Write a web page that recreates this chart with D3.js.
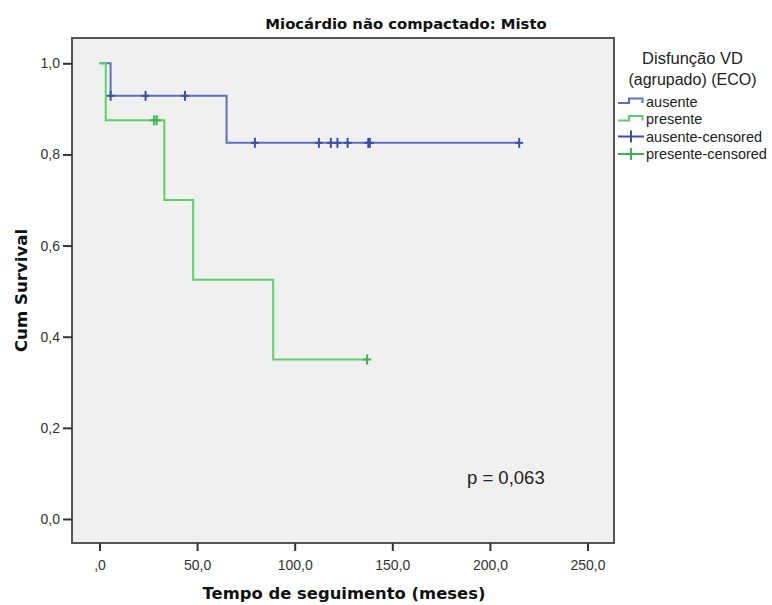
<!DOCTYPE html>
<html>
<head>
<meta charset="utf-8">
<script src="https://cdn.jsdelivr.net/npm/d3@7"></script>
<style>
  html, body { margin: 0; padding: 0; background: #fff; }
  svg { display: block; }
</style>
</head>
<body>
<svg id="chart" width="772" height="605"></svg>
<script>
// Kaplan-Meier curves, grouped by right-ventricular dysfunction
const groups = ["ausente", "presente"];
const groupColors = ["#5b70c4", "#5fcf6c"];
const censorColors = ["#3a50a6", "#3bb64c"];

// step times (months) and cumulative survival after each step
const ausenteTimes = [0, 5.7, 65.1];
const ausenteSurvival = [1, 0.9286, 0.8254];
const ausenteEnd = 215;
const ausenteCensored = [5.7, 23.6, 43.8, 79.6, 112.4, 118.5, 121.9, 127.1, 137.7, 138.5, 215];

const presenteTimes = [0, 3.2, 33.2, 48.0, 89.0];
const presenteSurvival = [1, 0.875, 0.7, 0.525, 0.35];
const presenteEnd = 137.1;
const presenteCensored = [28.0, 29.3, 137.1];

const xTicks = [0, 50, 100, 150, 200, 250];
const yTicks = [0, 0.2, 0.4, 0.6, 0.8, 1.0];
const pValueText = "p = 0,063";

const series = [
  { name: groups[0], times: ausenteTimes, surv: ausenteSurvival, end: ausenteEnd, cens: ausenteCensored, color: groupColors[0], ccolor: censorColors[0] },
  { name: groups[1], times: presenteTimes, surv: presenteSurvival, end: presenteEnd, cens: presenteCensored, color: groupColors[1], ccolor: censorColors[1] }
];

const svg = d3.select("#chart");
const frame = { left: 72, right: 614, top: 38, bottom: 543 };

const x = d3.scaleLinear().domain([0, 250]).range([99.5, 587.5]);
const y = d3.scaleLinear().domain([0, 1]).range([519, 63.3]);

// decimal comma; zero on the time axis is written ",0"
const commaFmt = v => d3.format(".1f")(v).replace(".", ",");
const xFmt = v => (v === 0 ? ",0" : commaFmt(v));

// plot background and frame
svg.append("rect")
  .attr("x", frame.left).attr("y", frame.top)
  .attr("width", frame.right - frame.left).attr("height", frame.bottom - frame.top)
  .attr("fill", "#f0f0f0").attr("stroke", "#555").attr("stroke-width", 2);

// y axis ticks and labels
const yAxis = d3.axisLeft(y).tickValues(yTicks).tickSize(9).tickPadding(3).tickFormat(commaFmt);
const gy = svg.append("g").attr("transform", `translate(${frame.left},0)`).call(yAxis);
gy.select(".domain").remove();
gy.selectAll(".tick line").attr("stroke", "#333").attr("stroke-width", 2);
gy.selectAll(".tick text").attr("fill", "#333")
  .style("font-family", "'Liberation Sans', Arial, sans-serif").style("font-size", "14px");

// x axis ticks and labels
const xAxis = d3.axisBottom(x).tickValues(xTicks).tickSize(8).tickPadding(9).tickFormat(xFmt);
const gx = svg.append("g").attr("transform", `translate(0,${frame.bottom})`).call(xAxis);
gx.select(".domain").remove();
gx.selectAll(".tick line").attr("stroke", "#333").attr("stroke-width", 2);
gx.selectAll(".tick text").attr("fill", "#333")
  .style("font-family", "'Liberation Sans', Arial, sans-serif").style("font-size", "14px");

// survival value at time t for a step series
function survAt(s, t) {
  const i = d3.bisectRight(s.times, t) - 1;
  return s.surv[Math.max(0, i)];
}

const line = d3.line().x(d => x(d[0])).y(d => y(d[1])).curve(d3.curveStepAfter);

// draw curves: "ausente" first so "presente" sits on top
series.forEach(s => {
  const pts = s.times.map((t, i) => [t, s.surv[i]]);
  pts.push([s.end, s.surv[s.surv.length - 1]]);
  svg.append("path").datum(pts)
    .attr("d", line).attr("fill", "none")
    .attr("stroke", s.color).attr("stroke-width", 2)
    .attr("stroke-linejoin", "miter");
});

// censored observations as "+" marks
series.forEach(s => {
  const g = svg.append("g");
  s.cens.forEach(t => {
    const cx = x(t), cy = y(survAt(s, t));
    g.append("line").attr("x1", cx).attr("x2", cx).attr("y1", cy - 5).attr("y2", cy + 5)
      .attr("stroke", s.ccolor).attr("stroke-width", 2);
    g.append("line").attr("x1", cx - 4).attr("x2", cx + 4).attr("y1", cy).attr("y2", cy)
      .attr("stroke", s.ccolor).attr("stroke-width", 2);
  });
});

// title
svg.append("text").attr("x", 406).attr("y", 29).attr("text-anchor", "middle")
  .style("font-family", "'DejaVu Sans', sans-serif").style("font-weight", "bold")
  .style("font-size", "14.8px").attr("fill", "#111")
  .text("Miocárdio não compactado: Misto");

// axis titles
svg.append("text").attr("x", 344).attr("y", 599).attr("text-anchor", "middle")
  .style("font-family", "'DejaVu Sans', sans-serif").style("font-weight", "bold")
  .style("font-size", "16.4px").attr("fill", "#111")
  .text("Tempo de seguimento (meses)");

svg.append("text").attr("transform", "translate(27,290.5) rotate(-90)").attr("text-anchor", "middle")
  .style("font-family", "'DejaVu Sans', sans-serif").style("font-weight", "bold")
  .style("font-size", "16.6px").attr("fill", "#111")
  .text("Cum Survival");

// p-value annotation
svg.append("text").attr("x", 467).attr("y", 484).attr("text-anchor", "start")
  .style("font-family", "'Liberation Sans', Arial, sans-serif")
  .style("font-size", "18.5px").attr("fill", "#222")
  .text(pValueText);

// legend
const lg = svg.append("g");
lg.append("text").attr("x", 692.5).attr("y", 64).attr("text-anchor", "middle")
  .style("font-family", "'Liberation Sans', Arial, sans-serif").style("font-size", "16.5px").attr("fill", "#222")
  .text("Disfunção VD");
lg.append("text").attr("x", 692.5).attr("y", 84.5).attr("text-anchor", "middle")
  .style("font-family", "'Liberation Sans', Arial, sans-serif").style("font-size", "16px").attr("fill", "#222")
  .text("(agrupado) (ECO)");

const legendItems = [
  { label: groups[0], kind: "line", color: groupColors[0], y: 101.5 },
  { label: groups[1], kind: "line", color: groupColors[1], y: 119 },
  { label: groups[0] + "-censored", kind: "cens", color: censorColors[0], y: 136.5 },
  { label: groups[1] + "-censored", kind: "cens", color: censorColors[1], y: 154 }
];
legendItems.forEach(it => {
  if (it.kind === "line") {
    lg.append("path")
      .attr("d", `M618,${it.y + 1.5} H629 V${it.y - 3} H642.5 V${it.y + 1.5}`)
      .attr("fill", "none").attr("stroke", it.color).attr("stroke-width", 2);
  } else {
    lg.append("line").attr("x1", 618).attr("x2", 644).attr("y1", it.y).attr("y2", it.y)
      .attr("stroke", it.color).attr("stroke-width", 2);
    lg.append("line").attr("x1", 631).attr("x2", 631).attr("y1", it.y - 6).attr("y2", it.y + 6)
      .attr("stroke", it.color).attr("stroke-width", 2);
  }
  lg.append("text").attr("x", 646).attr("y", it.y + 5)
    .style("font-family", "'Liberation Sans', Arial, sans-serif").style("font-size", "14.5px").attr("fill", "#222")
    .text(it.label);
});
</script>
</body>
</html>
